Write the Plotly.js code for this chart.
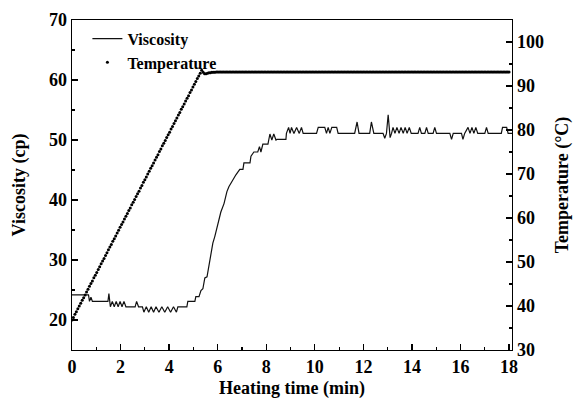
<!DOCTYPE html>
<html>
<head>
<meta charset="utf-8">
<script src="https://cdn.plot.ly/plotly-3.0.1.min.js"></script>
<style>html,body{margin:0;padding:0;background:#fff;}#chart{width:575px;height:408px;}</style>
</head>
<body>
<div id="chart"></div>
<script>
// Viscosity (cp) vs heating time (min)
const viscTime = [0, 0.68, 0.72, 0.78, 0.84, 1.48, 1.52, 1.58, 1.66, 1.74, 1.82, 1.90, 1.98, 2.06, 2.14, 2.22, 2.60, 2.66, 2.74, 2.90, 2.96, 3.06, 3.16, 3.26, 3.36, 3.46, 3.58, 3.70, 3.82, 3.94, 4.06, 4.18, 4.30, 4.36, 4.73, 4.77, 5.06, 5.10, 5.23,
  5.27, 5.31, 5.39, 5.47, 5.56, 5.64, 5.72, 5.80, 5.88, 5.97, 6.05, 6.13, 6.26, 6.38, 6.46, 6.54, 6.63, 6.75, 6.91, 7.04, 7.08, 7.33, 7.37, 7.49, 7.65, 7.72, 7.78, 7.86, 8.07, 8.15, 8.23, 8.31, 8.40, 8.44, 8.81,
  8.83, 8.92, 8.98, 9.04, 9.14, 9.25, 9.36, 9.45, 9.52, 10.07, 10.14, 10.41, 10.48, 10.55, 10.62, 10.70, 10.90, 10.96, 11.64, 11.74, 11.82, 12.26, 12.33, 12.43, 12.81, 12.88, 12.95, 13.02, 13.10, 13.16,
  13.22, 13.30, 13.38, 13.47, 13.55, 13.64, 13.72, 13.80, 13.89, 13.97, 14.05, 14.25, 14.32, 14.39, 14.53, 14.60, 14.67, 14.87, 14.94, 15.01, 15.49, 15.56, 15.63, 15.70, 16.04, 16.10, 16.17,
  16.31, 16.39, 16.47, 16.55, 16.63, 16.71, 16.79, 17.00, 17.07, 17.14, 17.68, 17.73, 17.90, 17.96, 18.12];
const viscosity = [24.2, 24.2, 23.1, 23.8, 23.1, 23.1, 24.4, 22.2, 23.1, 22.2, 23.1, 22.2, 23.1, 22.2, 23.1, 22.2, 22.2, 23.1, 22.2, 22.2, 21.3, 22.2, 21.3, 22.2, 21.3, 22.2, 21.3, 22.2, 21.3, 22.2, 21.3, 22.2, 21.3, 22.2, 22.2, 23.1, 23.1, 23.9, 23.9,
  24.5, 24.9, 25.2, 27.0, 27.2, 29.2, 30.5, 32.8, 33.9, 35.3, 36.7, 38.0, 39.4, 41.4, 42.2, 42.8, 43.3, 44.2, 45.1, 45.1, 46.2, 46.2, 47.3, 48.0, 48.0, 48.9, 48.0, 49.3, 49.3, 51.0, 50.0, 51.0, 50.0, 50.1, 50.1,
  51.1, 52.1, 51.1, 52.1, 51.1, 52.1, 51.1, 52.1, 51.1, 51.1, 52.1, 52.1, 51.1, 52.1, 51.1, 52.1, 52.1, 51.1, 51.1, 53.0, 51.1, 51.1, 53.0, 51.1, 51.1, 50.3, 51.1, 54.2, 50.4, 51.1,
  52.1, 51.1, 52.1, 51.1, 52.1, 51.1, 52.1, 51.1, 52.1, 51.1, 51.1, 51.1, 52.1, 51.1, 51.1, 52.1, 51.1, 51.1, 52.1, 51.1, 51.1, 51.1, 50.1, 51.1, 51.1, 50.1, 51.1,
  52.1, 51.1, 52.1, 51.1, 52.1, 51.1, 51.1, 51.1, 52.1, 51.1, 51.1, 52.1, 52.1, 51.1, 51.1];

// Temperature (°C), sampled every 0.06 min starting at 0 min
const tempStart = 0;
const tempStep = 0.06;
const temperature = [
  36.8, 37.4, 38.1, 38.7, 39.4, 40.0, 40.6, 41.3, 41.9, 42.5, 43.2, 43.8, 44.5, 45.1, 45.7, 46.4, 47.0, 47.6, 48.3, 48.9,
  49.6, 50.2, 50.8, 51.5, 52.1, 52.8, 53.4, 54.0, 54.7, 55.3, 55.9, 56.6, 57.2, 57.9, 58.5, 59.1, 59.8, 60.4, 61.0, 61.7,
  62.3, 63.0, 63.6, 64.2, 64.9, 65.5, 66.1, 66.8, 67.4, 68.1, 68.7, 69.3, 70.0, 70.6, 71.3, 71.9, 72.5, 73.2, 73.8, 74.4,
  75.1, 75.7, 76.4, 77.0, 77.6, 78.3, 78.9, 79.5, 80.2, 80.8, 81.5, 82.1, 82.7, 83.4, 84.0, 84.7, 85.3, 85.9, 86.6, 87.2,
  87.8, 88.5, 89.1, 89.8, 90.4, 91.0, 91.7, 92.3, 92.9, 93.6, 93.1, 92.8, 92.8, 92.9, 93.0, 93.0, 93.1, 93.1, 93.1, 93.2,
  93.2, 93.2, 93.2, 93.2, 93.2, 93.2, 93.2, 93.2, 93.2, 93.2, 93.2, 93.2, 93.2, 93.2, 93.2, 93.2, 93.2, 93.2, 93.2, 93.2,
  93.2, 93.2, 93.2, 93.2, 93.2, 93.2, 93.2, 93.2, 93.2, 93.2, 93.2, 93.2, 93.2, 93.2, 93.2, 93.2, 93.2, 93.2, 93.2, 93.2,
  93.2, 93.2, 93.2, 93.2, 93.2, 93.2, 93.2, 93.2, 93.2, 93.2, 93.2, 93.2, 93.2, 93.2, 93.2, 93.2, 93.2, 93.2, 93.2, 93.2,
  93.2, 93.2, 93.2, 93.2, 93.2, 93.2, 93.2, 93.2, 93.2, 93.2, 93.2, 93.2, 93.2, 93.2, 93.2, 93.2, 93.2, 93.2, 93.2, 93.2,
  93.2, 93.2, 93.2, 93.2, 93.2, 93.2, 93.2, 93.2, 93.2, 93.2, 93.2, 93.2, 93.2, 93.2, 93.2, 93.2, 93.2, 93.2, 93.2, 93.2,
  93.2, 93.2, 93.2, 93.2, 93.2, 93.2, 93.2, 93.2, 93.2, 93.2, 93.2, 93.2, 93.2, 93.2, 93.2, 93.2, 93.2, 93.2, 93.2, 93.2,
  93.2, 93.2, 93.2, 93.2, 93.2, 93.2, 93.2, 93.2, 93.2, 93.2, 93.2, 93.2, 93.2, 93.2, 93.2, 93.2, 93.2, 93.2, 93.2, 93.2,
  93.2, 93.2, 93.2, 93.2, 93.2, 93.2, 93.2, 93.2, 93.2, 93.2, 93.2, 93.2, 93.2, 93.2, 93.2, 93.2, 93.2, 93.2, 93.2, 93.2,
  93.2, 93.2, 93.2, 93.2, 93.2, 93.2, 93.2, 93.2, 93.2, 93.2, 93.2, 93.2, 93.2, 93.2, 93.2, 93.2, 93.2, 93.2, 93.2, 93.2,
  93.2, 93.2, 93.2, 93.2, 93.2, 93.2, 93.2, 93.2, 93.2, 93.2, 93.2, 93.2, 93.2, 93.2, 93.2, 93.2, 93.2, 93.2, 93.2, 93.2,
  93.2
];

const xTickVals = [0, 2, 4, 6, 8, 10, 12, 14, 16, 18];
const yTickVals = [20, 30, 40, 50, 60, 70];
const y2TickVals = [30, 40, 50, 60, 70, 80, 90, 100];

const serif = 'Liberation Serif, Times New Roman, serif';
const tickFont = {family: serif, size: 18, color: '#000', weight: 'bold'};
const titleFont = {family: serif, size: 18, color: '#000', weight: 'bold'};

const traces = [
  {
    x: viscTime, y: viscosity, name: 'Viscosity', type: 'scatter', mode: 'lines',
    line: {color: '#111', width: 1.2}, yaxis: 'y'
  },
  {
    x0: tempStart, dx: tempStep, y: temperature, name: 'Temperature', type: 'scatter', mode: 'markers',
    marker: {color: '#000', size: 3}, yaxis: 'y2'
  }
];

const axisCommon = {
  showline: true, linecolor: '#000', linewidth: 1.3,
  ticks: 'inside', ticklen: 6, tickwidth: 1.3, tickcolor: '#000',
  showgrid: false, zeroline: false, tickfont: tickFont
};

const layout = {
  width: 575, height: 408,
  margin: {l: 72, r: 63, t: 20, b: 58},
  paper_bgcolor: '#fff', plot_bgcolor: '#fff',
  showlegend: true,
  legend: {
    x: 0.035, y: 0.995, xanchor: 'left', yanchor: 'top',
    bgcolor: 'rgba(0,0,0,0)', font: {family: serif, size: 16, color: '#000', weight: 'bold'},
    tracegroupgap: 0, itemwidth: 30
  },
  xaxis: Object.assign({}, axisCommon, {
    range: [0, 18.12], tickmode: 'array', tickvals: xTickVals, ticktext: xTickVals.map(String),
    mirror: true,
    minor: {dtick: 1, tick0: 0, ticks: 'inside', ticklen: 3, tickwidth: 1.2, tickcolor: '#000'},
    title: {text: 'Heating time (min)', font: titleFont, standoff: 5}
  }),
  yaxis: Object.assign({}, axisCommon, {
    range: [15, 70], tickmode: 'array', tickvals: yTickVals, ticktext: yTickVals.map(String),
    minor: {dtick: 5, tick0: 0, ticks: 'inside', ticklen: 3, tickwidth: 1.2, tickcolor: '#000'},
    title: {text: 'Viscosity (cp)', font: titleFont, standoff: 18}
  }),
  yaxis2: Object.assign({}, axisCommon, {
    range: [30, 105], overlaying: 'y', side: 'right', tickmode: 'array',
    tickvals: y2TickVals, ticktext: y2TickVals.map(String),
    minor: {dtick: 5, tick0: 0, ticks: 'inside', ticklen: 3, tickwidth: 1.2, tickcolor: '#000'},
    title: {text: 'Temperature (°C)', font: titleFont, standoff: 12}
  })
};

Plotly.newPlot('chart', traces, layout, {staticPlot: true, displayModeBar: false});
</script>
</body>
</html>
